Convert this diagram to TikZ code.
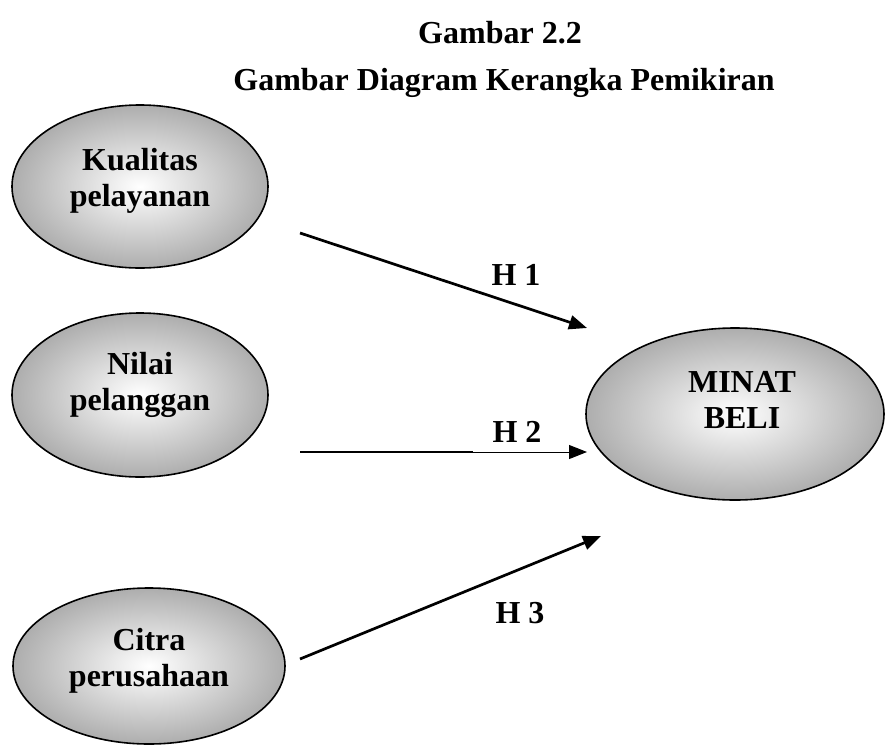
\documentclass[tikz,border=0pt]{standalone}
\usepackage{fontspec}
\setmainfont{Liberation Serif}
\usetikzlibrary{shapes.geometric,arrows.meta}
\tikzset{
  oval/.style={ellipse, draw=black, line width=1.6pt, inner sep=0pt,
    shading=radial, inner color=white, outer color=black!32},
  txt/.style={font=\bfseries\fontsize{32}{36}\selectfont, align=center, inner sep=0pt},
  tip/.style={-{Triangle[length=18pt,width=14pt]}},
  arr/.style={line width=2.7pt, tip},
}
\begin{document}
\begin{tikzpicture}[x=1pt,y=-1pt]
\useasboundingbox (0,0) rectangle (886,745);
% title
\node[txt, anchor=base] (title) at (500,43) {Gambar 2.2};
\node[txt, anchor=base] (subtitle) at (504,90) {Gambar Diagram Kerangka Pemikiran};
% ellipses
\node[oval, minimum width=256pt, minimum height=163pt] (kual) at (140,186.5) {};
\node[oval, minimum width=256pt, minimum height=164pt] (nilai) at (140,395) {};
\node[oval, minimum width=272pt, minimum height=156pt] (citra) at (149,666) {};
\node[oval, minimum width=298pt, minimum height=172pt] (minat) at (735,414) {};
% ellipse texts
\node[txt] (kualt) at (140,181) {Kualitas\\pelayanan};
\node[txt] (nilait) at (140,385) {Nilai\\pelanggan};
\node[txt] (citrat) at (149,661) {Citra\\perusahaan};
\node[txt] (minatt) at (742,400) {MINAT\\BELI};
% arrow end points
\coordinate (h1s) at (300,233);
\coordinate (h1e) at (587,328);
\coordinate (h2s) at (300,452);
\coordinate (h2m) at (473,452);
\coordinate (h2e) at (587,452);
\coordinate (h3s) at (300,659);
\coordinate (h3e) at (601,536);
\draw[arr] (h1s) -- (h1e);
\draw[line width=2.7pt] (h2s) -- (h2m);
\draw[line width=1pt, tip] (h2m) -- (h2e);
\draw[arr] (h3s) -- (h3e);
% labels
\node[txt, anchor=base] (l1) at (516,285) {H 1};
\node[txt, anchor=base] (l2) at (517,442) {H 2};
\node[txt, anchor=base] (l3) at (520,623) {H 3};
\end{tikzpicture}
\end{document}
